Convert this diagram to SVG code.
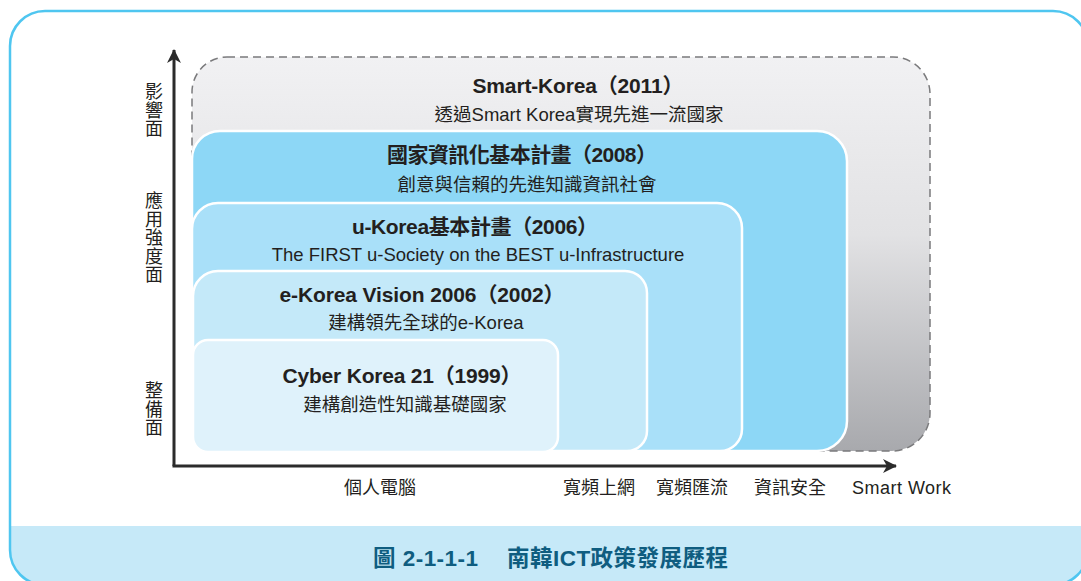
<svg xmlns="http://www.w3.org/2000/svg" width="1081" height="581" viewBox="0 0 1081 581">
<style>
.t{font-family:"Liberation Sans","Noto Sans CJK TC",sans-serif;fill:#231f20}
.h{font-size:21px;font-weight:bold;text-anchor:middle}
.s{font-size:18.5px;text-anchor:middle}
.ax{font-size:18px}
.yl{font-size:18px;text-anchor:middle}
.cap{font-family:"Liberation Sans","Noto Sans CJK TC",sans-serif;font-weight:bold;font-size:22.5px;fill:#0f5d80}
.box{stroke:#ffffff;stroke-width:2.5}
.axis{stroke:#2b2b2b;stroke-width:3;fill:none}
</style>
<defs>
<linearGradient id="gray" x1="0" y1="0" x2="0" y2="1">
<stop offset="0" stop-color="#f1f1f3"/>
<stop offset="0.45" stop-color="#e2e2e4"/>
<stop offset="1" stop-color="#a8a9ad"/>
</linearGradient>
<clipPath id="fr"><rect x="10" y="11" width="1078" height="574" rx="35"/></clipPath>
<marker id="arr" viewBox="0 0 14 14" refX="13" refY="7" markerWidth="14" markerHeight="14" markerUnits="userSpaceOnUse" orient="auto">
<path d="M0,0 L14,7 L0,14 L4,7 Z" fill="#2b2b2b"/>
</marker>
</defs>
<rect x="0" y="0" width="1081" height="581" fill="#ffffff"/>
<g id="frame">
<rect x="10" y="526" width="1080" height="60" fill="#c6e9f8" clip-path="url(#fr)"/>
<rect x="10" y="11" width="1078" height="574" rx="35" fill="none" stroke="#4fc6f0" stroke-width="2.5"/>
</g>
<g id="smart-korea">
<path d="M227,57 H893 A37,37 0 0 1 930,94 V413 A38,38 0 0 1 892,451 H227 A35,35 0 0 1 192,416 V92 A35,35 0 0 1 227,57 Z" fill="url(#gray)" stroke="#7a7a7c" stroke-width="1.5" stroke-dasharray="8,5"/>
<text class="t h" x="578" y="93" textLength="211" lengthAdjust="spacing">Smart-Korea（2011）</text>
<text class="t s" x="579" y="121">透過Smart Korea實現先進一流國家</text>
</g>
<g id="national-plan">
<path class="box" d="M220,131 H817 A30,30 0 0 1 847,161 V421 A30,30 0 0 1 817,451 H212 A20,20 0 0 1 192,431 V159 A28,28 0 0 1 220,131 Z" fill="#8dd7f6"/>
<text class="t h" x="522" y="162" textLength="270" lengthAdjust="spacing">國家資訊化基本計畫（2008）</text>
<text class="t s" x="527" y="191">創意與信賴的先進知識資訊社會</text>
</g>
<g id="u-korea">
<path class="box" d="M218,203 H717 A25,25 0 0 1 742,228 V429 A22,22 0 0 1 720,451 H207 A15,15 0 0 1 192,436 V229 A26,26 0 0 1 218,203 Z" fill="#a9e0f9"/>
<text class="t h" x="475" y="234" textLength="246" lengthAdjust="spacing">u-Korea基本計畫（2006）</text>
<text class="t s" x="478" y="261">The FIRST u-Society on the BEST u-Infrastructure</text>
</g>
<g id="e-korea">
<path class="box" d="M218,271 H625 A22,22 0 0 1 647,293 V431 A20,20 0 0 1 627,451 H208 A15,15 0 0 1 193,436 V296 A25,25 0 0 1 218,271 Z" fill="#c4e9f9"/>
<text class="t h" x="422" y="302" textLength="285" lengthAdjust="spacing">e-Korea Vision 2006（2002）</text>
<text class="t s" x="426" y="329">建構領先全球的e-Korea</text>
</g>
<g id="cyber-korea">
<rect class="box" x="193" y="340" width="365" height="112" rx="15" fill="#dff2fb"/>
<text class="t h" x="402" y="383" textLength="239" lengthAdjust="spacing">Cyber Korea 21（1999）</text>
<text class="t s" x="405" y="411">建構創造性知識基礎國家</text>
</g>
<g id="connectors">
<path class="axis" d="M174,466 V50" marker-end="url(#arr)"/>
<path class="axis" d="M172.5,466 H896" marker-end="url(#arr)"/>
</g>
<g id="y-labels">
<text class="t yl"><tspan x="154" y="98">影</tspan><tspan x="154" y="116.5">響</tspan><tspan x="154" y="135">面</tspan></text>
<text class="t yl"><tspan x="154" y="207">應</tspan><tspan x="154" y="225.5">用</tspan><tspan x="154" y="244">強</tspan><tspan x="154" y="262.5">度</tspan><tspan x="154" y="281">面</tspan></text>
<text class="t yl"><tspan x="154" y="397">整</tspan><tspan x="154" y="415.5">備</tspan><tspan x="154" y="434">面</tspan></text>
</g>
<g id="x-labels">
<text class="t ax" x="344" y="494">個人電腦</text>
<text class="t ax" x="563" y="494">寬頻上網</text>
<text class="t ax" x="656" y="494">寬頻匯流</text>
<text class="t ax" x="754" y="494">資訊安全</text>
<text class="t ax" x="852" y="494" textLength="99" lengthAdjust="spacing">Smart Work</text>
</g>
<g id="caption">
<text class="cap" x="373" y="566" textLength="105" lengthAdjust="spacing">圖 2-1-1-1</text>
<text class="cap" x="507" y="566" textLength="221" lengthAdjust="spacing">南韓ICT政策發展歷程</text>
</g>
</svg>
